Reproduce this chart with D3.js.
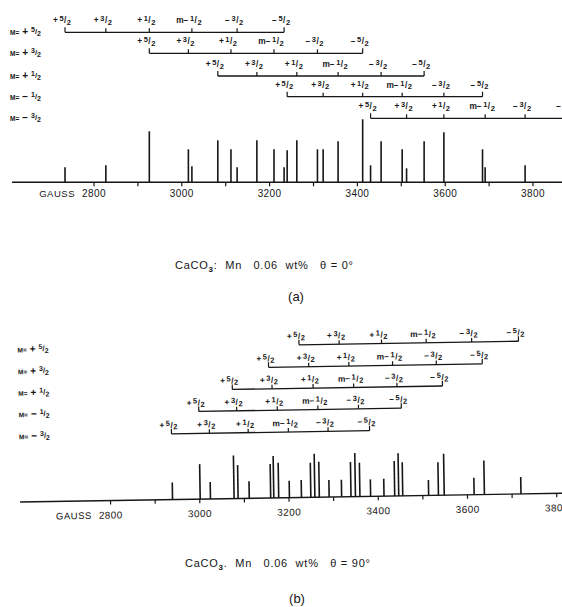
<!DOCTYPE html>
<html>
<head>
<meta charset="utf-8">
<script src="https://cdn.jsdelivr.net/npm/d3@7"></script>
<style>
  body { margin: 0; background: #fff; }
  svg { display: block; background: #fff; }
  text { font-family: "Liberation Sans", Arial, sans-serif; fill: #161616; }
</style>
</head>
<body>
<svg id="figure" width="562" height="607"></svg>
<script>
// field axis (gauss)
const fieldLabels = [2800, 3000, 3200, 3400, 3600, 3800];
const fieldTicks = d3.range(2800, 3801, 100);

// electron spin rows (M) and nuclear hyperfine labels (m), as [sign, numerator]
const electronM = [["+", "5"], ["+", "3"], ["+", "1"], ["\u2212", "1"], ["\u2212", "3"]];
const nuclearM = [["+", "5"], ["+", "3"], ["+", "1"], ["m\u2212", "1"], ["\u2212", "3"], ["\u2212", "5"]];

// theta = 0 deg : hyperfine sextets per row, and the observed lines
const rowsA = [
  [2734, 2827, 2926, 3023, 3126, 3233],
  [2926, 3015, 3112, 3210, 3309, 3412],
  [3082, 3171, 3262, 3356, 3454, 3552],
  [3240, 3322, 3412, 3502, 3597, 3685],
  [3430, 3512, 3597, 3691, 3782, 3880]
];
const linesA = [2734, 2827, 2926, 3015, 3023, 3082, 3112, 3126, 3171, 3210, 3233, 3240, 3262,
  3309, 3322, 3356, 3412, 3430, 3454, 3502, 3512, 3552, 3597, 3685, 3691, 3782];
const heightsA = [15, 17, 51, 33, 16, 42, 33, 15, 42, 33, 15, 32, 42,
  33, 33, 41, 63, 17, 41, 33, 14, 41, 50, 33, 15, 17];

// theta = 90 deg
const rowsB = [
  [3228, 3318, 3413, 3513, 3615, 3720],
  [3159, 3249, 3339, 3437, 3535, 3638],
  [3077, 3166, 3258, 3349, 3446, 3548],
  [3001, 3086, 3177, 3268, 3359, 3455],
  [2939, 3024, 3111, 3201, 3290, 3383]
];
const linesB = [2939, 3001, 3024, 3077, 3086, 3111, 3159, 3166, 3177, 3201, 3228, 3249, 3258, 3268, 3290,
  3318, 3339, 3349, 3359, 3383, 3413, 3437, 3446, 3455, 3513, 3535, 3548, 3615, 3638, 3720];
const heightsB = [17, 35, 17, 43, 33.5, 17, 34, 42, 35, 17, 17.5, 34.5, 43.5, 35.5, 17,
  17, 34.7, 43.7, 33.7, 17, 17.5, 35, 42.7, 33.7, 15.5, 33, 41.5, 17, 34, 17];

const captionA = ["CaCO", "3", ":  Mn   0.06  wt%   \u03b8 = 0\u00b0"];
const captionB = ["CaCO", "3", ".  Mn   0.06  wt%   \u03b8 = 90\u00b0"];

const svg = d3.select("#figure");
const ink = "#161616";

// fraction label: sign, raised numerator, slash, lowered 2
function fraction(text, sign, num, size) {
  text.append("tspan").attr("font-size", size).text(sign);
  text.append("tspan").attr("font-size", size * 0.9).attr("dx", 1.5).attr("dy", -2).text(num);
  text.append("tspan").attr("font-size", size).attr("dx", 0.5).attr("dy", 2).text("/");
  text.append("tspan").attr("font-size", size * 0.9).attr("dx", 0.5).attr("dy", 1.5).text("2");
}

function drawPanel(cfg) {
  const panel = svg.append("g").attr("id", cfg.id)
    .attr("transform", `rotate(${cfg.angle},${cfg.pivot[0]},${cfg.pivot[1]})`);

  const x = d3.scaleLinear().domain([2800, 3800]).range(cfg.xRange);
  const y = d3.scaleLinear().domain([0, 70]).range([cfg.axisY, cfg.axisY - 70]);

  // hyperfine stick diagrams
  const brackets = panel.append("g").attr("id", cfg.id + "Brackets");
  cfg.rows.forEach((row, i) => {
    const ry = cfg.rowY[i];
    const b = brackets.append("g");
    b.append("line")
      .attr("x1", x(row[0])).attr("x2", x(row[row.length - 1]))
      .attr("y1", ry).attr("y2", ry)
      .attr("stroke", ink).attr("stroke-width", 1.3);
    b.selectAll("line.tick").data(row).join("line")
      .attr("class", "tick")
      .attr("x1", d => x(d)).attr("x2", d => x(d))
      .attr("y1", ry).attr("y2", (d, j) => ry - (j === 0 || j === row.length - 1 ? 5 : 4))
      .attr("stroke", ink).attr("stroke-width", 1.2);
    row.forEach((g, j) => {
      const t = b.append("text")
        .attr("x", x(g) - 3).attr("y", ry - cfg.labelGap)
        .attr("text-anchor", "middle").attr("font-weight", "bold");
      fraction(t, nuclearM[j][0], nuclearM[j][1], 8.3);
    });

    // electron M label at left
    const m = panel.append("text")
      .attr("x", cfg.mX).attr("y", ry + 3).attr("font-weight", "bold");
    m.append("tspan").attr("font-size", 6.5).text("M=");
    m.append("tspan").attr("font-size", 10).attr("dx", 3).text(electronM[i][0]);
    m.append("tspan").attr("font-size", 7).attr("dx", 3).attr("dy", -3).text(electronM[i][1]);
    m.append("tspan").attr("font-size", 7.5).attr("dy", 2).text("/");
    m.append("tspan").attr("font-size", 7).attr("dy", 2).text("2");
  });

  // field axis
  const axis = panel.append("g").attr("id", cfg.id + "Axis");
  axis.append("line")
    .attr("x1", cfg.axisX0).attr("x2", 570)
    .attr("y1", cfg.axisY).attr("y2", cfg.axisY)
    .attr("stroke", ink).attr("stroke-width", 1.4);
  axis.selectAll("line.tick").data(fieldTicks).join("line")
    .attr("class", "tick")
    .attr("x1", d => x(d)).attr("x2", d => x(d))
    .attr("y1", cfg.axisY).attr("y2", cfg.axisY + 4)
    .attr("stroke", ink).attr("stroke-width", 1.2);
  axis.selectAll("text.lab").data(fieldLabels).join("text")
    .attr("class", "lab")
    .attr("x", d => x(d)).attr("y", cfg.axisY + cfg.tickLabelDy)
    .attr("text-anchor", "middle").attr("font-size", 10)
    .attr("letter-spacing", 0.4)
    .text(d => d);
  axis.append("text")
    .attr("x", x(2800) - 19).attr("y", cfg.axisY + cfg.tickLabelDy)
    .attr("text-anchor", "end").attr("font-size", 9.5).attr("letter-spacing", 0.5)
    .text("GAUSS");

  // resonance lines
  panel.append("g").attr("id", cfg.id + "Lines")
    .selectAll("line").data(cfg.lines).join("line")
    .attr("x1", d => x(d)).attr("x2", d => x(d))
    .attr("y1", cfg.axisY).attr("y2", (d, i) => y(cfg.heights[i]))
    .attr("stroke", ink).attr("stroke-width", 1.6);

  // caption
  const cap = svg.append("text")
    .attr("x", cfg.captionX).attr("y", cfg.captionY)
    .attr("font-size", 11).attr("text-anchor", "start")
    .attr("textLength", cfg.captionLen).attr("lengthAdjust", "spacing")
    .style("white-space", "pre");
  cap.append("tspan").text(cfg.caption[0]);
  cap.append("tspan").attr("dy", 3).attr("font-size", 8).attr("font-weight", "bold").text(cfg.caption[1]);
  cap.append("tspan").attr("dy", -3).text(cfg.caption[2]);

  svg.append("text")
    .attr("x", cfg.tagX).attr("y", cfg.tagY)
    .attr("text-anchor", "middle").attr("font-size", 13)
    .text(cfg.tag);
}

drawPanel({
  id: "panelA", angle: 0, pivot: [0, 0],
  xRange: [94, 533], axisY: 182.3, axisX0: 12, tickLabelDy: 15,
  rowY: [32.3, 53.3, 76, 96.7, 118.3], labelGap: 9, mX: 10,
  rows: rowsA, lines: linesA, heights: heightsA,
  caption: captionA, captionX: 175, captionY: 269, captionLen: 178,
  tag: "(a)", tagX: 296, tagY: 301
});

drawPanel({
  id: "panelB", angle: -0.93, pivot: [350, 496.7],
  xRange: [110.5, 556.7], axisY: 496.7, axisX0: 20, tickLabelDy: 18,
  rowY: [344, 366, 387.5, 409, 431], labelGap: 6, mX: 20,
  rows: rowsB, lines: linesB, heights: heightsB,
  caption: captionB, captionX: 185, captionY: 567, captionLen: 185,
  tag: "(b)", tagX: 297, tagY: 603
});
</script>
</body>
</html>
